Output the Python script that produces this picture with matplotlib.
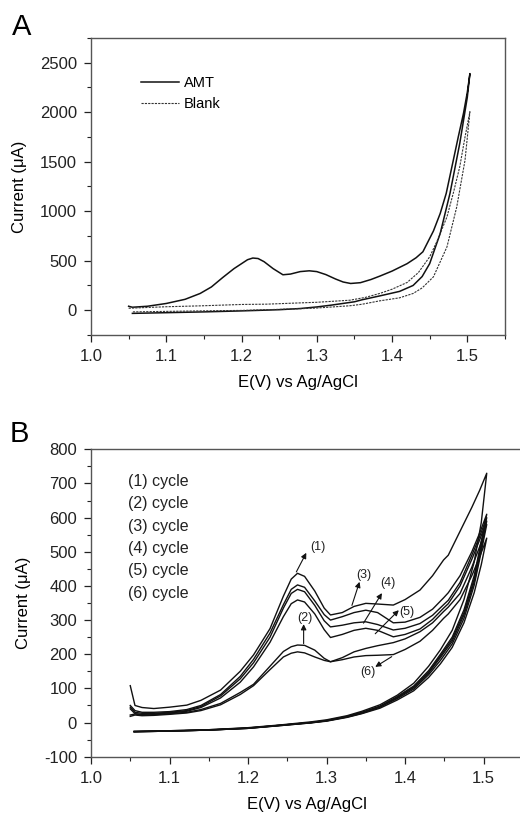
# -*- coding: utf-8 -*-
"""
AMT 循环伏安图: (A) AMT vs Blank, (B) 连续 6 圈扫描
"""
import matplotlib
matplotlib.use('Agg')
import matplotlib.pyplot as plt
import matplotlib as mpl
from matplotlib.ticker import MultipleLocator

mpl.rcParams['font.family'] = ['Liberation Sans', 'DejaVu Sans']
mpl.rcParams['font.size'] = 12
mpl.rcParams['axes.unicode_minus'] = False

# === A: AMT / Blank (正扫 + 反扫) ===
E_amt_fwd = [1.050, 1.055, 1.075, 1.100, 1.125, 1.145, 1.160, 1.175, 1.190, 1.200, 1.208, 1.215,
             1.222, 1.230, 1.242, 1.255, 1.265, 1.278, 1.290, 1.300, 1.312, 1.325, 1.335, 1.345,
             1.358, 1.372, 1.384, 1.400, 1.420, 1.432, 1.441, 1.455, 1.464, 1.472, 1.481, 1.488,
             1.495, 1.500, 1.5035]
I_amt_fwd = [40, 30, 40, 68, 110, 169, 235, 330, 420, 470, 510, 527,
             522, 490, 420, 358, 365, 390, 398, 390, 360, 315, 285, 270,
             278, 310, 345, 395, 470, 530, 590, 800, 977, 1180, 1500, 1750,
             1990, 2200, 2390]
E_amt_rev = [1.5035, 1.500, 1.490, 1.477, 1.464, 1.450, 1.440, 1.428, 1.410, 1.384, 1.360, 1.350,
             1.320, 1.300, 1.278, 1.250, 1.200, 1.150, 1.100, 1.055]
I_amt_rev = [2390, 2150, 1685, 1180, 775, 470, 340, 250, 190, 145, 105, 85,
             52, 33, 17, 5, -7, -17, -25, -32]

E_blank_fwd = [1.050, 1.100, 1.145, 1.200, 1.233, 1.278, 1.300, 1.344, 1.365, 1.384, 1.400, 1.420,
               1.435, 1.450, 1.460, 1.473, 1.482, 1.490, 1.497, 1.5035]
I_blank_fwd = [20, 35, 44, 58, 61, 74, 80, 101, 130, 170, 212, 280,
               380, 539, 700, 943, 1200, 1449, 1750, 2005]
E_blank_rev = [1.5035, 1.497, 1.486, 1.473, 1.455, 1.440, 1.428, 1.410, 1.384, 1.360, 1.344, 1.300,
               1.278, 1.200, 1.145, 1.100, 1.055]
I_blank_rev = [2005, 1516, 1044, 640, 337, 225, 169, 125, 95, 60, 45, 22,
               15, -2, -7, -12, -17]

# === B: 6 圈 ===
E_fwd = [1.050, 1.056, 1.065, 1.080, 1.100, 1.122, 1.140, 1.165, 1.190, 1.207, 1.228, 1.245,
         1.255, 1.263, 1.272, 1.285, 1.297, 1.305, 1.320, 1.335, 1.350, 1.365, 1.385, 1.400,
         1.419, 1.435, 1.449, 1.455, 1.470, 1.485, 1.495, 1.504]
I_fwd = {
    1: [108, 50, 44, 41, 45, 51, 65, 95, 150, 198, 275, 370,
        420, 437, 428, 385, 335, 315, 322, 340, 349, 347, 344, 360,
        388, 430, 476, 490, 560, 630, 680, 730],
    2: [50, 35, 30, 30, 32, 38, 50, 82, 135, 185, 262, 345,
        390, 403, 396, 356, 316, 300, 310, 322, 329, 322, 292, 294,
        308, 332, 365, 380, 430, 500, 555, 610],
    3: [45, 30, 27, 27, 30, 35, 47, 78, 128, 175, 250, 335,
        378, 390, 383, 343, 298, 280, 285, 292, 295, 287, 271, 276,
        290, 314, 345, 358, 410, 490, 545, 600],
    4: [40, 26, 24, 25, 28, 33, 44, 72, 118, 163, 235, 310,
        348, 359, 353, 318, 272, 249, 258, 270, 276, 270, 251, 258,
        274, 302, 335, 348, 400, 478, 535, 590],
    5: [22, 25, 22, 23, 26, 30, 38, 56, 88, 112, 165, 208,
        222, 227, 226, 212, 188, 178, 190, 207, 217, 225, 234, 245,
        266, 292, 325, 338, 378, 455, 515, 580],
    6: [18, 22, 20, 21, 24, 28, 35, 52, 82, 108, 155, 192,
        203, 207, 204, 192, 182, 178, 184, 192, 196, 197, 199, 214,
        238, 270, 305, 318, 360, 430, 485, 540],
}
E_rev = [1.504, 1.497, 1.488, 1.475, 1.460, 1.445, 1.430, 1.411, 1.390, 1.368, 1.345, 1.326,
         1.300, 1.280, 1.241, 1.200, 1.150, 1.100, 1.055]
I_rev = {
    1: [730, 585, 470, 360, 270, 213, 165, 115, 80, 52, 33, 20, 8, 2, -7, -15, -21, -24, -26],
    2: [610, 530, 430, 330, 250, 200, 152, 107, 76, 48, 30, 18, 6, 0, -8, -16, -21, -24, -26],
    3: [600, 520, 420, 322, 244, 195, 148, 104, 74, 47, 29, 17, 6, 0, -8, -16, -22, -25, -26],
    4: [590, 510, 412, 315, 238, 190, 145, 102, 72, 46, 28, 17, 5, 0, -8, -17, -22, -25, -27],
    5: [580, 500, 402, 305, 230, 182, 140, 98, 70, 45, 27, 16, 5, -1, -9, -17, -22, -25, -27],
    6: [540, 462, 380, 292, 220, 172, 132, 93, 66, 42, 26, 15, 4, -1, -9, -17, -22, -25, -27],
}

# 箭头标注: 文字, 起点(E, I), 箭头(E, I), 文字位置(E, I)
notes = [
    ('(1)', (1.2615, 441), (1.2742, 497), (1.2890, 514)),
    ('(2)', (1.2708, 231), (1.2708, 288), (1.2730, 306)),
    ('(3)', (1.3323, 343), (1.3420, 412), (1.3470, 432)),
    ('(4)', (1.3470, 291), (1.3705, 379), (1.3780, 408)),
    ('(5)', (1.3620, 260), (1.3920, 329), (1.4020, 325)),
    ('(6)', (1.3830, 193), (1.3620, 163), (1.3520, 149)),
]

fig = plt.figure(figsize=(5.2, 8.14), dpi=100)


def style_axes(ax, xlim, ylim, ymaj, ymin):
    ax.set_xlim(*xlim)
    ax.set_ylim(*ylim)
    ax.xaxis.set_major_locator(MultipleLocator(0.1))
    ax.xaxis.set_minor_locator(MultipleLocator(0.05))
    ax.yaxis.set_major_locator(MultipleLocator(ymaj))
    ax.yaxis.set_minor_locator(MultipleLocator(ymin))
    ax.tick_params(which='both', direction='out', top=False, right=False, colors='#222222')
    ax.tick_params(which='major', length=5, width=0.9, pad=5)
    ax.tick_params(which='minor', length=3, width=0.8)
    for s in ax.spines.values():
        s.set_color('#555555')
        s.set_linewidth(1.0)
    ax.set_xlabel('E(V) vs Ag/AgCl', labelpad=8)
    ax.set_ylabel('Current (\u03bcA)', labelpad=9)


# --- A ---
ax = fig.add_axes([0.175, 0.5885, 0.796, 0.3649])
ax.plot(E_amt_fwd + E_amt_rev, I_amt_fwd + I_amt_rev, color='#111111', lw=1.1, label='AMT')
ax.plot(E_blank_fwd + E_blank_rev, I_blank_fwd + I_blank_rev, color='#333333', lw=0.8,
        ls=(0, (2, 1)), label='Blank')
style_axes(ax, (1.0, 1.55), (-250, 2750), 500, 250)
ax.set_xticklabels([f'{t:.1f}' for t in ax.get_xticks()])
ax.legend(loc='upper left', bbox_to_anchor=(0.09, 0.915), frameon=False, fontsize=10.5,
          handlelength=2.6, handletextpad=0.3, labelspacing=0.45)
fig.text(0.022, 0.957, 'A', fontsize=21)

# --- B ---
ax = fig.add_axes([0.175, 0.0704, 0.8305, 0.3776])
for k in range(1, 7):
    ax.plot(E_fwd + E_rev, I_fwd[k] + I_rev[k], color='#111111', lw=1.0)
style_axes(ax, (1.0, 1.55), (-100, 800), 100, 50)
ax.set_xticklabels([f'{t:.1f}' for t in ax.get_xticks()])
for i in range(6):
    ax.text(0.086, 0.895 - i * 0.0725, f'({i + 1}) cycle', transform=ax.transAxes,
            fontsize=11.5, va='center', color='#222222')
for txt, start, head, pos in notes:
    ax.annotate('', xy=head, xytext=start,
                arrowprops=dict(arrowstyle='-|>', color='#111111', lw=0.8, mutation_scale=8,
                                shrinkA=0, shrinkB=0))
    ax.text(pos[0], pos[1], txt, fontsize=9, ha='center', va='center', color='#222222')
fig.text(0.018, 0.457, 'B', fontsize=21)

plt.savefig('out.png', dpi=100)
plt.close()
